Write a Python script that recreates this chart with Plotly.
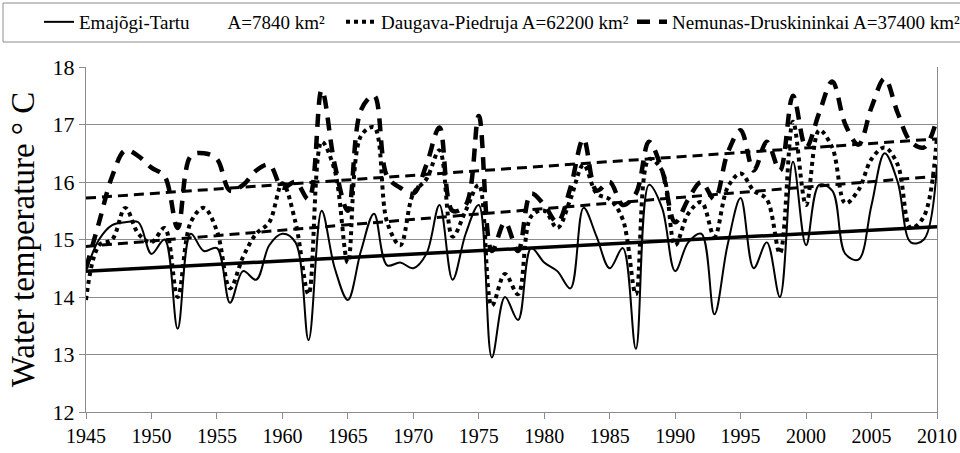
import plotly.graph_objects as go

years = list(range(1945, 2011))

emajogi = [14.45, 15.0, 15.25, 15.3, 15.3, 14.75, 15.0, 13.45, 15.1, 14.8,
           14.85, 13.9, 14.45, 14.3, 14.9, 15.1, 14.95, 13.25, 15.5, 14.5,
           13.95, 14.8, 15.45, 14.55, 14.6, 14.5, 14.75, 15.6, 14.3, 15.1,
           15.6, 12.95, 14.0, 13.6, 14.85, 14.6, 14.45, 14.15, 15.55, 15.05,
           14.5, 14.85, 13.1, 15.95, 15.55, 14.45, 14.95, 15.1, 13.7, 14.9,
           15.72, 14.5, 14.95, 14.0, 16.35, 14.9, 15.95, 15.85, 14.75, 14.65,
           15.6, 16.5, 16.0, 14.95, 15.0, 16.3]

daugava = [13.95, 14.9, 15.0, 15.55, 15.1, 14.95, 15.2, 14.0, 15.3, 15.55,
           15.15, 14.15, 14.7, 15.1, 15.3, 15.98, 15.3, 14.05, 16.7, 16.2,
           14.6, 16.8, 16.95, 15.3, 14.9, 15.8, 16.05, 16.55, 15.05, 15.5,
           15.95, 13.85, 14.4, 14.05, 15.4, 15.5, 15.2, 15.7, 16.3, 15.8,
           15.7, 15.35, 14.05, 16.4, 16.2, 14.9, 15.45, 15.65, 15.05, 15.9,
           16.15, 15.85, 15.7, 14.76, 17.05, 15.6, 16.9, 16.6, 15.63, 15.86,
           16.4, 16.6, 16.3, 15.2, 15.4, 16.8]

nemunas = [14.5, 15.3, 16.1, 16.55, 16.45, 16.25, 16.1, 15.2, 16.45, 16.5,
           16.4, 15.85, 15.95, 16.2, 16.3, 15.9, 16.0, 15.7, 17.6, 16.3,
           15.5, 17.25, 17.5, 16.1, 15.9, 15.8, 16.3, 16.95, 15.5, 15.6,
           17.15, 14.8, 15.3, 14.8, 15.8, 15.6, 15.3, 15.9, 16.75, 15.85,
           16.0, 15.6, 15.8, 16.7, 16.2, 15.3, 15.7, 16.0, 15.7, 16.5,
           16.9, 16.2, 16.7, 16.2, 17.5, 16.6, 17.2, 17.75, 17.0, 16.65,
           17.3, 17.8, 17.2, 16.7, 16.6, 17.1]

trend_years = [1945, 2010]
emajogi_trend = [14.45, 15.22]
daugava_trend = [14.88, 16.1]
nemunas_trend = [15.72, 16.75]

names = ["Emajõgi-Tartu" + "\u00a0" * 8 + "A=7840 km²",
         "Daugava-Piedruja A=62200 km²",
         "Nemunas-Druskininkai A=37400 km²"]

FONT = "Liberation Serif"
GRAY = "#8c8c8c"
W, H = 960, 453

fig = go.Figure()

fig.add_trace(go.Scatter(x=years, y=emajogi, mode="lines", name=names[0], legend="legend",
                         line=dict(color="black", width=2, shape="spline", smoothing=1.0)))
fig.add_trace(go.Scatter(x=years, y=daugava, mode="lines", name=names[1], legend="legend2",
                         line=dict(color="black", width=4, dash="4px,4px", shape="spline", smoothing=1.0)))
fig.add_trace(go.Scatter(x=years, y=nemunas, mode="lines", name=names[2], legend="legend3",
                         line=dict(color="black", width=4.5, dash="13px,9px", shape="spline", smoothing=1.0)))

fig.add_trace(go.Scatter(x=trend_years, y=emajogi_trend, mode="lines", showlegend=False,
                         line=dict(color="black", width=3.5)))
fig.add_trace(go.Scatter(x=trend_years, y=daugava_trend, mode="lines", showlegend=False,
                         line=dict(color="black", width=3, dash="10px,6px")))
fig.add_trace(go.Scatter(x=trend_years, y=nemunas_trend, mode="lines", showlegend=False,
                         line=dict(color="black", width=3, dash="10px,6px")))

def px_x(p):
    return (p - 86) / 851.0

def px_y(p):
    return (412 - p) / 345.0

leg_common = dict(orientation="h", yanchor="middle", xanchor="left",
                  xref="container", yref="container", y=1 - 22 / H,
                  borderwidth=0, bgcolor="rgba(0,0,0,0)",
                  font=dict(family=FONT, size=19, color="black"))

fig.update_layout(
    width=W, height=H,
    margin=dict(l=86, r=23, t=67, b=41, autoexpand=False),
    paper_bgcolor="white", plot_bgcolor="white",
    font=dict(family=FONT, color="black"),
    showlegend=True,
    legend=dict(x=39 / W, **leg_common),
    legend2=dict(x=341 / W, **leg_common),
    legend3=dict(x=632 / W, **leg_common),
    shapes=[dict(type="rect", xref="paper", yref="paper",
                 x0=px_x(3), x1=px_x(975), y0=px_y(42), y1=px_y(3),
                 line=dict(color=GRAY, width=1), fillcolor="rgba(0,0,0,0)", layer="below")],
    xaxis=dict(range=[1945, 2010], tick0=1945, dtick=5, ticks="outside", ticklen=6,
               tickcolor=GRAY, showline=True, linecolor=GRAY, linewidth=1,
               showgrid=False, zeroline=False,
               tickfont=dict(family=FONT, size=20, color="black")),
    yaxis=dict(range=[12, 18], dtick=1, ticks="outside", ticklen=6, tickcolor=GRAY,
               showline=True, mirror=True, linecolor=GRAY, linewidth=1,
               showgrid=True, gridcolor=GRAY, gridwidth=1, zeroline=False,
               tickfont=dict(family=FONT, size=22, color="black"),
               title=dict(text="Water temperature ° C", standoff=8,
                          font=dict(family=FONT, size=33, color="black"))),
)

fig.write_html("out.html", config={"displayModeBar": False},
               post_script="document.body.style.margin='0px';document.body.style.overflow='hidden';")
